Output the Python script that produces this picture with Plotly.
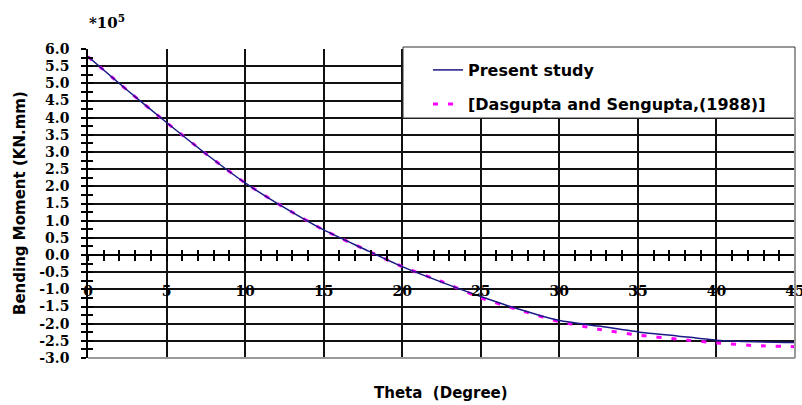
import plotly.graph_objects as go

# ---- data (values in units of 1e5 KN.mm) ----
theta = [0, 2.5, 5, 7.5, 10, 12.5, 15, 17.5, 20, 22.5, 25, 27.5, 30, 32.5, 35, 37.5, 40, 42.5, 45]
present_study = [5.78, 4.80, 3.86, 2.95, 2.10, 1.38, 0.73, 0.19, -0.34, -0.79, -1.21, -1.59, -1.91,
                 -2.07, -2.24, -2.36, -2.48, -2.53, -2.55]
dasgupta = [5.78, 4.80, 3.86, 2.95, 2.10, 1.38, 0.73, 0.19, -0.34, -0.77, -1.25, -1.61, -1.94,
            -2.16, -2.33, -2.45, -2.56, -2.64, -2.67]
x_ticks = [0, 5, 10, 15, 20, 25, 30, 35, 40, 45]
y_ticks = [-3.0, -2.5, -2.0, -1.5, -1.0, -0.5, 0.0, 0.5, 1.0, 1.5, 2.0, 2.5, 3.0, 3.5, 4.0, 4.5, 5.0, 5.5, 6.0]
y_tick_text = ["%.1f" % v for v in y_ticks]

X_RANGE = [0, 45]
Y_RANGE = [-3, 6]

L, R, T, B = 88, 7, 49, 47
W, H = 802, 405
PW, PH = W - L - R, H - T - B


def px_x(px):
    return (px - L) / PW


def px_y(py):
    return (H - B - py) / PH


serif = dict(family="DejaVu Serif", size=14, color="black", weight="bold")
sans = dict(family="DejaVu Sans", size=15, color="black", weight="bold")
legend_font = dict(family="DejaVu Sans", size=16, color="black", weight="bold")

fig = go.Figure()

fig.add_trace(go.Scatter(
    x=theta, y=dasgupta, mode="lines", name="[Dasgupta and Sengupta,(1988)]",
    line=dict(color="#ff00ff", width=3, dash="5px,10px", shape="spline", smoothing=0.6),
    legend="legend2", hoverinfo="skip"))
fig.add_trace(go.Scatter(
    x=theta, y=present_study, mode="lines", name="Present study",
    line=dict(color="#1a1a86", width=1.5, shape="spline", smoothing=0.6),
    legend="legend", hoverinfo="skip"))

# invisible helper traces so overlay axes (for crossing tick marks) render
fig.add_trace(go.Scatter(x=[0], y=[0], mode="markers", marker=dict(opacity=0), showlegend=False,
                         hoverinfo="skip", xaxis="x", yaxis="y2"))
fig.add_trace(go.Scatter(x=[0], y=[0], mode="markers", marker=dict(opacity=0), showlegend=False,
                         hoverinfo="skip", xaxis="x2", yaxis="y"))
fig.add_trace(go.Scatter(x=[0], y=[0], mode="markers", marker=dict(opacity=0), showlegend=False,
                         hoverinfo="skip", xaxis="x3", yaxis="y"))

zero_pos = (0 - Y_RANGE[0]) / (Y_RANGE[1] - Y_RANGE[0])

fig.update_layout(
    width=W, height=H,
    margin=dict(l=L, r=R, t=T, b=B, autoexpand=False),
    paper_bgcolor="white", plot_bgcolor="white",
    xaxis=dict(range=X_RANGE, tickvals=x_ticks, ticks="", showgrid=True, gridcolor="#111",
               gridwidth=1.5, zeroline=False, showline=False, anchor="free",
               position=px_y(281), tickfont=serif, fixedrange=True,
               ticklabeloverflow="allow", automargin=False),
    xaxis2=dict(range=X_RANGE, overlaying="x", anchor="free", position=zero_pos, dtick=1,
                tick0=0, ticks="outside", ticklen=5, tickwidth=1.5, tickcolor="black",
                showticklabels=False, showgrid=False, zeroline=False, showline=False,
                automargin=False),
    xaxis3=dict(range=X_RANGE, overlaying="x", anchor="free", position=zero_pos, dtick=1,
                tick0=0, ticks="inside", ticklen=5, tickwidth=1.5, tickcolor="black",
                showticklabels=False, showgrid=False, zeroline=False, showline=False,
                automargin=False),
    yaxis=dict(range=Y_RANGE, tickvals=y_ticks, ticktext=y_tick_text, ticks="outside",
               ticklen=5, tickwidth=1.5, tickcolor="black",
               minor=dict(dtick=0.25, tick0=0, ticks="outside", ticklen=5, tickwidth=1.5,
                          tickcolor="black", showgrid=False),
               showgrid=True, gridcolor="#111", gridwidth=1.5,
               zeroline=True, zerolinecolor="black", zerolinewidth=1.5,
               showline=True, linecolor="black", linewidth=1.5, anchor="x",
               tickfont=serif, ticklabelstandoff=9, fixedrange=True, automargin=False),
    yaxis2=dict(range=Y_RANGE, overlaying="y", side="left", anchor="x", dtick=0.25, tick0=0,
                ticks="inside", ticklen=5, tickwidth=1.5, tickcolor="black",
                showticklabels=False, showgrid=False, zeroline=False, showline=False,
                automargin=False),
    legend=dict(x=px_x(428), xanchor="left", y=px_y(70), yanchor="middle",
                bgcolor="rgba(0,0,0,0)", font=legend_font, borderwidth=0),
    legend2=dict(x=px_x(428), xanchor="left", y=px_y(104), yanchor="middle",
                 bgcolor="rgba(0,0,0,0)", font=legend_font, borderwidth=0),
    showlegend=True,
)

# legend box and plot-area frame (right / bottom)
fig.add_shape(type="rect", xref="paper", yref="paper", x0=px_x(403), x1=1.0,
              y0=px_y(118), y1=px_y(47), fillcolor="white",
              line=dict(color="#333", width=1), layer="above")
fig.add_shape(type="line", xref="paper", yref="paper", x0=1, x1=1, y0=0, y1=1,
              line=dict(color="#999", width=2), layer="above")
fig.add_shape(type="line", xref="paper", yref="paper", x0=0, x1=1, y0=0, y1=0,
              line=dict(color="#999", width=2), layer="above")

fig.add_annotation(text="Bending Moment (KN.mm)", xref="paper", yref="paper",
                   x=px_x(20), y=px_y(203), textangle=-90, showarrow=False,
                   xanchor="center", yanchor="middle", font=sans)
fig.add_annotation(text="Theta  (Degree)", xref="paper", yref="paper",
                   x=px_x(441), y=px_y(393), showarrow=False,
                   xanchor="center", yanchor="middle", font=sans)
fig.add_annotation(text="*10<sup>5</sup>", xref="paper", yref="paper",
                   x=px_x(87), y=px_y(22), showarrow=False,
                   xanchor="left", yanchor="middle", font=dict(serif, size=15))

fig.write_html("out.html")
